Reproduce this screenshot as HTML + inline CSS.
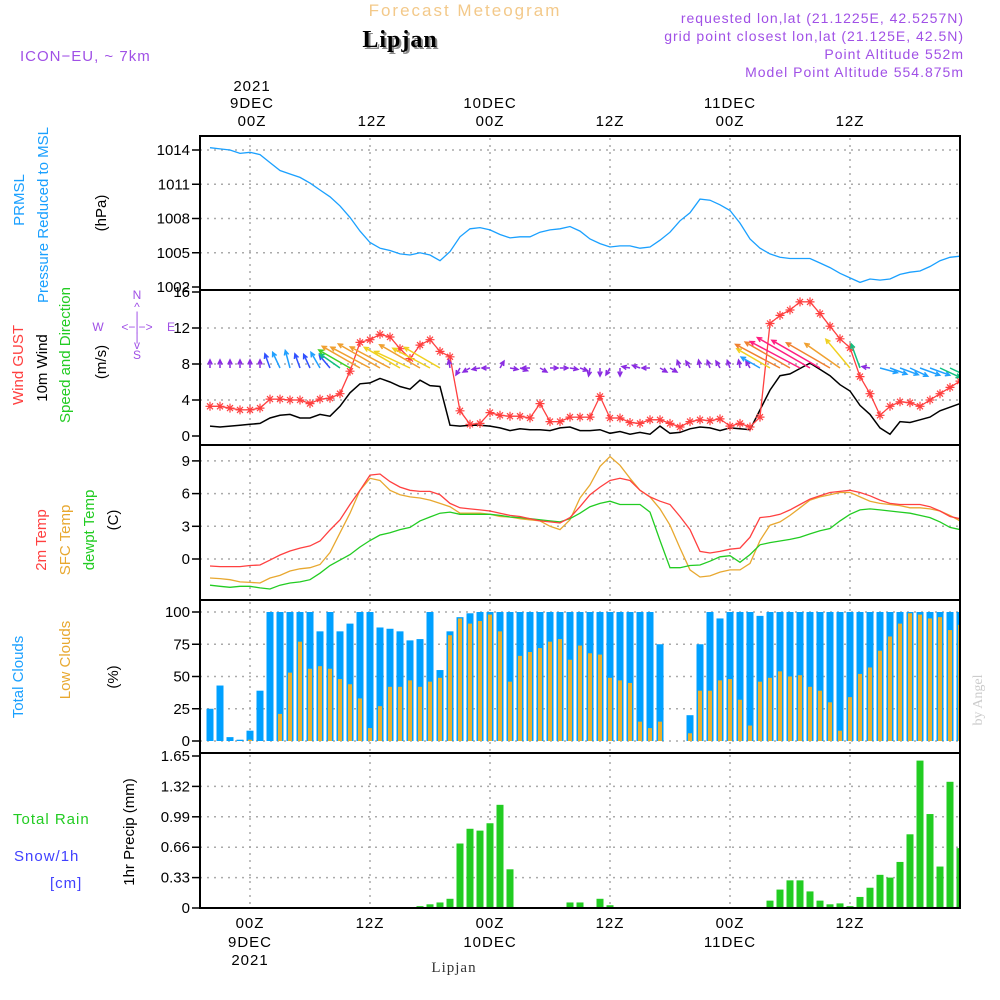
<!DOCTYPE html>
<html><head><meta charset="utf-8"><style>
html,body{margin:0;padding:0;background:#fff;}
svg{display:block;font-family:"Liberation Sans",sans-serif;}
</style></head><body>
<svg id="chart" width="1000" height="1000" viewBox="0 0 1000 1000" xmlns="http://www.w3.org/2000/svg">
<defs><clipPath id="plotclip"><rect x="200" y="130" width="760" height="780"/></clipPath></defs>
<rect x="0" y="0" width="1000" height="1000" fill="#fff"/>
<g id="header" font-size="15" letter-spacing="1">
<text x="465" y="16" text-anchor="middle" fill="#f3c98a" font-size="17" letter-spacing="2">Forecast Meteogram</text>
<text x="402" y="49" text-anchor="middle" fill="#888" font-family="Liberation Serif,serif" font-weight="bold" font-size="24">Lipjan</text>
<text x="400" y="47" text-anchor="middle" fill="#000" font-family="Liberation Serif,serif" font-weight="bold" font-size="24">Lipjan</text>
<text x="20" y="61" fill="#a050e6">ICON−EU, ~ 7km</text>
<text x="964" y="23" text-anchor="end" fill="#a050e6" font-size="14">requested lon,lat (21.1225E, 42.5257N)</text>
<text x="964" y="41" text-anchor="end" fill="#a050e6" font-size="14">grid point closest lon,lat (21.125E, 42.5N)</text>
<text x="964" y="59" text-anchor="end" fill="#a050e6" font-size="14">Point Altitude 552m</text>
<text x="964" y="77" text-anchor="end" fill="#a050e6" font-size="14">Model Point Altitude 554.875m</text>
</g>
<g id="timelabels" font-size="15" text-anchor="middle" fill="#000" letter-spacing="1">
<text x="252" y="91">2021</text>
<text x="252" y="108">9DEC</text>
<text x="252" y="126">00Z</text>
<text x="372" y="126">12Z</text>
<text x="490" y="108">10DEC</text>
<text x="490" y="126">00Z</text>
<text x="610" y="126">12Z</text>
<text x="730" y="108">11DEC</text>
<text x="730" y="126">00Z</text>
<text x="850" y="126">12Z</text>
<text x="250" y="928">00Z</text>
<text x="250" y="947">9DEC</text>
<text x="250" y="965">2021</text>
<text x="370" y="928">12Z</text>
<text x="490" y="928">00Z</text>
<text x="490" y="947">10DEC</text>
<text x="610" y="928">12Z</text>
<text x="730" y="928">00Z</text>
<text x="730" y="947">11DEC</text>
<text x="850" y="928">12Z</text>
<text x="454" y="972" font-family="Liberation Serif,serif" font-size="15" fill="#333">Lipjan</text>
</g>
<g id="leftlabels" font-size="15">
<text transform="translate(24,200) rotate(-90)" text-anchor="middle" fill="#1aa0ff">PRMSL</text>
<text transform="translate(48,215) rotate(-90)" text-anchor="middle" fill="#1aa0ff">Pressure Reduced to MSL</text>
<text transform="translate(106,213) rotate(-90)" text-anchor="middle" fill="#000">(hPa)</text>
<text transform="translate(23,365) rotate(-90)" text-anchor="middle" fill="#ff4040">Wind GUST</text>
<text transform="translate(47,368) rotate(-90)" text-anchor="middle" fill="#000">10m Wind</text>
<text transform="translate(70,355) rotate(-90)" text-anchor="middle" fill="#22cc22">Speed and Direction</text>
<text transform="translate(106,362) rotate(-90)" text-anchor="middle" fill="#000">(m/s)</text>
<g fill="#a050e6" font-size="12" text-anchor="middle">
<text x="137" y="299">N</text><text x="137" y="311">^</text><text x="137" y="320">|</text>
<text x="137" y="331">&lt;−|−&gt;</text><text x="98" y="331">W</text><text x="171" y="331">E</text>
<text x="137" y="341">|</text><text x="137" y="349">v</text><text x="137" y="359">S</text>
</g>
<text transform="translate(46,540) rotate(-90)" text-anchor="middle" fill="#ff4040">2m Temp</text>
<text transform="translate(70,540) rotate(-90)" text-anchor="middle" fill="#e8a830">SFC Temp</text>
<text transform="translate(94,530) rotate(-90)" text-anchor="middle" fill="#22cc22">dewpt Temp</text>
<text transform="translate(118,520) rotate(-90)" text-anchor="middle" fill="#000">(C)</text>
<text transform="translate(23,677) rotate(-90)" text-anchor="middle" fill="#1aa0ff">Total Clouds</text>
<text transform="translate(70,660) rotate(-90)" text-anchor="middle" fill="#e8a830">Low Clouds</text>
<text transform="translate(118,677) rotate(-90)" text-anchor="middle" fill="#000">(%)</text>
<text x="13" y="824" fill="#22cc22" letter-spacing="1">Total  Rain</text>
<text x="14" y="861" fill="#4040ff" letter-spacing="1">Snow/1h</text>
<text x="50" y="888" fill="#4040ff" letter-spacing="1">[cm]</text>
<text transform="translate(134,832) rotate(-90)" text-anchor="middle" fill="#000">1hr Precip (mm)</text>
<text transform="translate(982,700) rotate(-90)" text-anchor="middle" fill="#ccc" font-family="Liberation Serif,serif" font-size="14">by Angel</text>
</g>
<g id="plots"></g>
</svg>
<script>
const hours = [];
for (let h = -4; h <= 71; h++) hours.push(h);
const pressure = [1014.2,1014.1,1014.0,1013.7,1013.8,1013.6,1012.9,1012.2,1011.9,1011.6,1011.1,1010.5,1009.9,1009.1,1008.1,1006.9,1005.9,1005.4,1005.2,1004.9,1004.8,1005.0,1004.8,1004.3,1005.1,1006.4,1007.1,1007.2,1007.0,1006.6,1006.3,1006.4,1006.4,1006.8,1007.0,1007.1,1007.3,1006.9,1006.2,1005.8,1005.5,1005.6,1005.6,1005.4,1005.5,1006.1,1006.8,1007.8,1008.5,1009.7,1009.6,1009.2,1008.7,1007.6,1006.2,1005.4,1004.9,1004.6,1004.5,1004.5,1004.5,1004.1,1003.7,1003.2,1002.8,1002.4,1002.7,1002.6,1002.7,1003.1,1003.3,1003.4,1003.8,1004.3,1004.6,1004.7];
const wind10m = [1.1,1.0,1.1,1.2,1.3,1.4,2.0,2.3,2.4,2.0,2.0,2.4,2.2,3.3,4.8,5.8,5.9,6.4,6.0,5.5,5.2,6.2,5.6,5.5,1.2,1.1,1.2,1.2,1.1,0.9,0.6,0.8,0.7,0.7,0.6,0.9,1.0,0.6,0.6,0.7,0.3,0.5,0.2,0.4,0.2,1.1,0.3,0.4,0.8,1.0,0.9,0.6,0.9,0.8,0.7,2.9,5.1,6.7,6.9,7.5,8.1,7.4,6.7,5.7,5.0,3.4,2.4,0.9,0.2,1.6,1.5,1.8,2.1,2.8,3.2,3.6];
const gust = [3.3,3.3,3.1,2.9,2.9,3.1,4.1,4.1,4.0,4.0,3.6,4.1,4.2,4.7,7.2,10.4,10.7,11.3,11.0,9.7,8.6,10.1,10.7,9.4,8.8,2.8,1.3,1.4,2.6,2.3,2.2,2.2,2.0,3.6,1.6,1.6,2.1,2.1,2.1,4.4,2.0,2.0,1.5,1.4,1.8,1.8,1.4,1.0,1.6,1.8,1.7,1.9,1.1,1.4,1.0,2.1,12.5,13.4,14.0,14.9,14.9,13.6,12.2,10.8,9.8,6.6,4.7,2.3,3.3,3.8,3.7,3.3,4.0,4.7,5.4,6.1];
const windDir = [90,90,90,90,90,90,110,115,105,110,115,120,130,145,150,150,152,150,152,150,155,150,152,150,100,-120,-150,190,180,60,-10,-20,180,-30,0,0,-10,-20,-100,-90,-120,-90,170,160,180,-30,-30,110,120,100,110,120,110,100,120,150,150,152,150,152,150,150,150,145,130,110,170,-15,-20,-20,-25,-20,-20,-25,-25,-25];
const arrowSpeed = [1,1,1,1,1,1,2,2.3,2.4,2,2,2.4,2.2,3.3,4.8,5.8,5.9,6.4,6.0,5.5,5.2,6.2,5.6,5.5,1,1,1,1,1,1,1,1,1,1,1,1,1,1,1,1,1,1,1,1,1,1,1,1,1,1,1,1,1,1,1,2.9,5.1,6.7,6.9,7.5,8.1,7.4,6.7,5.7,5.0,3.4,1,2.4,2.4,2.6,2.6,2.8,2.8,3.0,3.0,3.2];
const temp2m = [-0.64,-0.7,-0.7,-0.7,-0.6,-0.55,-0.1,0.37,0.73,1.0,1.2,1.65,2.66,3.6,5.0,6.3,7.7,7.8,7.1,6.6,6.3,6.2,6.2,5.9,5.1,4.7,4.6,4.5,4.4,4.2,4.0,3.9,3.7,3.5,3.4,3.3,3.8,4.8,5.9,6.6,7.2,7.4,7.2,6.3,5.7,5.3,5.0,3.9,2.7,0.7,0.55,0.7,0.9,1.0,2.0,3.8,3.9,4.1,4.5,5.0,5.5,5.8,6.1,6.2,6.3,6.1,5.8,5.4,5.1,5.0,5.0,5.0,4.8,4.4,3.9,3.7];
const tempSfc = [-1.74,-1.8,-1.9,-2.1,-2.15,-2.2,-1.74,-1.5,-1.1,-0.9,-0.8,-0.5,0.6,2.4,4.2,6.3,7.4,7.2,6.3,5.9,5.7,5.6,5.4,5.1,4.8,4.2,4.2,4.2,4.1,3.9,3.85,3.7,3.6,3.5,3.0,2.7,3.6,5.6,6.8,8.5,9.4,8.6,7.4,6.3,5.7,4.6,3.1,1.0,-1.0,-1.65,-1.55,-1.2,-1.0,-1.0,-0.4,1.7,3.1,3.4,4.0,4.7,5.4,5.7,5.9,6.1,6.1,5.7,5.3,5.1,5.0,4.9,4.7,4.7,4.6,4.4,4.0,3.5];
const dewpoint = [-2.4,-2.5,-2.6,-2.5,-2.5,-2.65,-2.75,-2.4,-2.2,-2.1,-1.9,-1.3,-0.6,-0.1,0.4,1.1,1.7,2.2,2.4,2.7,2.9,3.5,3.85,4.2,4.3,4.1,4.1,4.1,4.1,4.0,3.85,3.8,3.7,3.6,3.5,3.4,3.7,4.2,4.8,5.1,5.3,5.0,5.0,5.0,4.3,1.7,-0.8,-0.8,-0.6,-0.55,-0.2,0.2,0.3,-0.3,0.4,1.3,1.5,1.65,1.8,2.0,2.3,2.6,2.8,3.5,4.1,4.5,4.6,4.5,4.4,4.3,4.2,4.0,3.8,3.4,2.9,2.7];
const totalClouds = [25,43,3,1,8,39,100,100,100,100,100,85,100,85,91,100,100,88,87,85,78,79,100,55,85,96,99,100,100,100,100,100,100,100,100,100,100,100,100,100,100,100,100,100,100,75,0,0,20,75,100,95,100,100,100,97,100,100,100,100,100,100,100,100,100,100,100,100,100,100,100,100,100,100,100,100];
const lowClouds = [0,0,0,0,1,0,0,21,53,77,56,58,56,48,44,33,10,27,42,42,47,42,46,49,82,95,91,93,98,85,46,66,69,72,77,79,63,74,68,67,49,47,45,15,10,15,0,0,6,39,39,47,48,32,12,46,49,54,50,51,42,39,30,8,34,52,57,70,81,91,99,98,95,96,86,90];
const precip = [0,0,0,0,0,0,0,0,0,0,0,0,0,0,0,0,0,0,0,0,0,0.02,0.04,0.06,0.1,0.7,0.86,0.84,0.92,1.12,0.42,0,0,0,0,0,0.06,0.06,0,0.1,0.03,0,0,0,0,0,0,0,0,0,0,0,0,0,0,0,0.08,0.2,0.3,0.3,0.18,0.08,0.04,0.05,0.02,0.12,0.22,0.36,0.33,0.5,0.8,1.6,1.02,0.45,1.37,0.65];
const pressTicks = [1002,1005,1008,1011,1014];
const windTicks = [0,4,8,12,16];
const tempTicks = [0,3,6,9];
const cloudTicks = [0,25,50,75,100];
const precipTicks = ['0','0.33','0.66','0.99','1.32','1.65'];

const NS = 'http://www.w3.org/2000/svg';
const root = document.getElementById('plots');
function mk(tag, attrs, parent){const e=document.createElementNS(NS,tag);for(const k in attrs)e.setAttribute(k,attrs[k]);(parent||root).appendChild(e);return e;}
const X0=200,X1=960;
const X = h => 250 + 10*h;
const yP = p => 150 + (1014-p)*(137/12);
const yW = v => 436 - v*9;
const yT = t => 559 - t*10.9;
const yC = c => 741 - c*1.29;
const yR = r => 908 - r*(152/1.65);
const panels = [[136,290,'pressure-panel'],[290,445,'wind-panel'],[445,600,'temperature-panel'],[600,753,'cloud-panel'],[753,908,'precip-panel']];

const grid = mk('g',{stroke:'#aaa','stroke-width':1.5,'stroke-dasharray':'2,5'});


[0,12,24,36,48,60].forEach(h=>{panels.forEach(p=>{mk('line',{x1:X(h),x2:X(h),y1:p[0]+2,y2:p[1]-2},grid);});});
function hgrid(vals, f){vals.forEach(v=>mk('line',{x1:X0,x2:X1,y1:f(v),y2:f(v)},grid));}
hgrid(pressTicks.slice(1),yP); hgrid(windTicks.slice(1,4),yW); hgrid(tempTicks,yT); hgrid(cloudTicks,yC); hgrid(precipTicks.map(Number).slice(1,5),yR);

function axis(vals, f, name){
  const g=mk('g',{'font-size':15,'text-anchor':'end',fill:'#000'});
  
  
  vals.forEach(v=>{const y=f(Number(v));mk('line',{x1:192,x2:200,y1:y,y2:y,stroke:'#000','stroke-width':1.5},g);const t=mk('text',{x:190,y:y+5},g);t.textContent=String(v);});
}
axis(pressTicks,yP,'pressure-y-axis');axis(windTicks,yW,'wind-y-axis');axis(tempTicks,yT,'temperature-y-axis');axis(cloudTicks,yC,'cloud-y-axis');axis(precipTicks,yR,'precip-y-axis');

const data = mk('g',{'clip-path':'url(#plotclip)'});



const cg=mk('g',{},data);


hours.forEach((h,i)=>{
  const x=X(h);
  if(totalClouds[i]>0){const r=mk('rect',{x:x-3.5,y:yC(totalClouds[i]),width:7,height:yC(0)-yC(totalClouds[i]),fill:'#00a0ff'},cg);
  
  }
  if(lowClouds[i]>0){const r=mk('rect',{x:x-2,y:yC(lowClouds[i]),width:4,height:yC(0)-yC(lowClouds[i]),fill:'#e8b030'},cg);
  
  }
});
const pg=mk('g',{},data);


hours.forEach((h,i)=>{if(precip[i]>0){const x=X(h);const r=mk('rect',{x:x-3.5,y:yR(precip[i]),width:7,height:yR(0)-yR(precip[i]),fill:'#22cc22'},pg);
  
  }});

function line(arr,f,color,name,w){
  const pts=hours.map((h,i)=>X(h)+','+f(arr[i]).toFixed(1)).join(' ');
  const l=mk('polyline',{points:pts,fill:'none',stroke:color,'stroke-width':w||1.3},data);
  
  
  return l;
}
line(pressure,yP,'#1aa0ff','pressure-line');
line(wind10m,yW,'#000','wind-10m-line',1.5);
line(gust,yW,'#ff4040','wind-gust-line');
const gm=mk('g',{stroke:'#ff4040','stroke-width':1.2},data);


hours.forEach((h,i)=>{const x=X(h),y=yW(gust[i]);
  mk('path',{d:`M${x-4.5},${y}h9M${x},${y-4.5}v9M${x-3},${y-3}l6,6M${x+3},${y-3}l-6,6`},gm);});
line(tempSfc,yT,'#e8a830','sfc-temp-line');
line(dewpoint,yT,'#22cc22','dewpoint-line');
line(temp2m,yT,'#ff4040','temp-2m-line');

function arrowColor(s){if(s<1.5)return '#8a2be2';if(s<2.3)return '#3050ff';if(s<3)return '#20a0ff';if(s<4)return '#10c080';if(s<5)return '#40d020';if(s<5.7)return '#f0d020';if(s<6.5)return '#f0a030';if(s<7.2)return '#f08030';return '#ff2080';}
const ag=mk('g',{'stroke-width':1.5,fill:'none'},data);


hours.forEach((h,i)=>{
  const x=X(h);
  const y=368, len=Math.max(8,arrowSpeed[i]*7.5), a=windDir[i]*Math.PI/180;
  const tx=x+len*Math.cos(a), ty=y-len*Math.sin(a);
  const c=arrowColor(arrowSpeed[i]);
  const b1=a+Math.PI-0.45, b2=a+Math.PI+0.45, hl=5;
  mk('path',{d:`M${x},${y}L${tx.toFixed(1)},${ty.toFixed(1)}M${(tx+hl*Math.cos(b1)).toFixed(1)},${(ty-hl*Math.sin(b1)).toFixed(1)}L${tx.toFixed(1)},${ty.toFixed(1)}L${(tx+hl*Math.cos(b2)).toFixed(1)},${(ty-hl*Math.sin(b2)).toFixed(1)}`,stroke:c},ag);
});

panels.forEach(p=>{const r=mk('rect',{x:X0,y:p[0],width:X1-X0,height:p[1]-p[0],fill:'none',stroke:'#000','stroke-width':2});
  
  });
</script>
</body></html>
